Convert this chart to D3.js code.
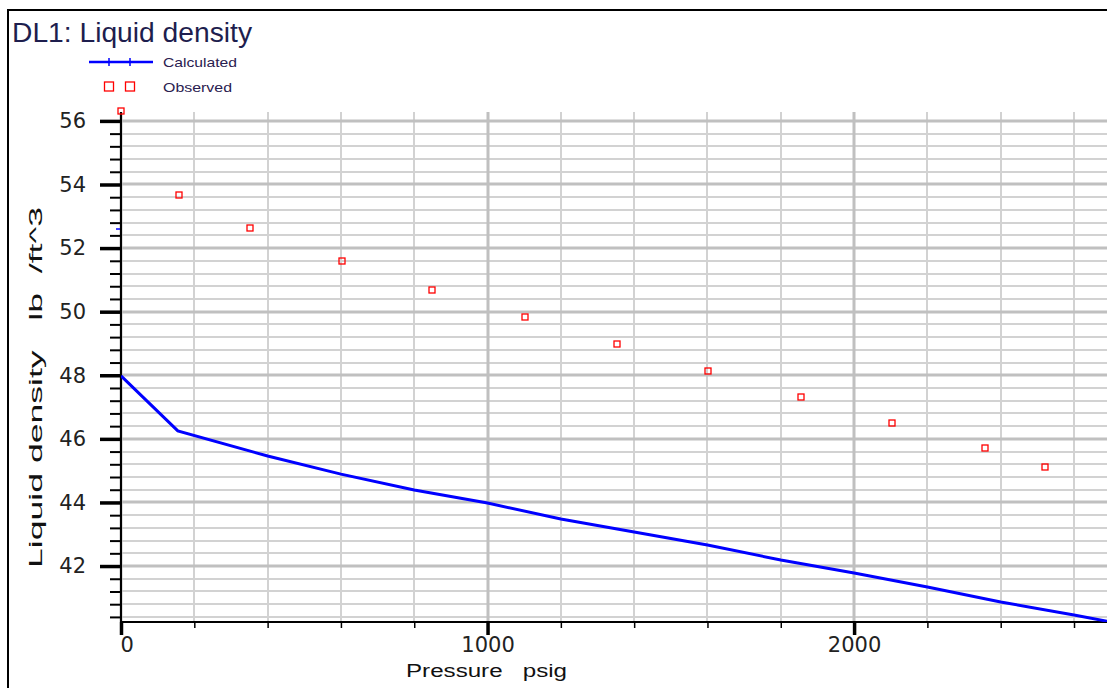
<!DOCTYPE html>
<html>
<head>
<meta charset="utf-8">
<script src="https://cdn.jsdelivr.net/npm/d3@7"></script>
<style>
  body { margin: 0; background: #fff; }
  svg { display: block; }
</style>
</head>
<body>
<svg width="1107" height="688"></svg>
<script>
// data
var obsPressure = [0, 158, 352, 603, 849, 1102, 1353, 1602, 1855, 2104, 2357, 2521];
var obsDensity  = [56.3, 53.67, 52.64, 51.6, 50.69, 49.84, 48.99, 48.14, 47.32, 46.5, 45.72, 45.12];
var calcPressure = [0, 155, 400, 600, 800, 1000, 1200, 1400, 1600, 1800, 2000, 2200, 2400, 2600, 2720];
var calcDensity  = [47.98, 46.25, 45.46, 44.89, 44.39, 43.98, 43.48, 43.07, 42.66, 42.19, 41.78, 41.34, 40.87, 40.46, 40.2];
var yMajor = [42, 44, 46, 48, 50, 52, 54, 56];
var xMajor = [0, 1000, 2000];

(function () {
var svg = d3.select('svg');
var pl = 121, pr = 1107, pt = 112, pb = 622;

var x = d3.scaleLinear().domain([0, 2690]).range([pl, pr]);
var y = d3.scaleLinear().domain([40.24, 56.28]).range([pb, pt]);

// outer frame
svg.append('path').attr('d', 'M8,688 V10 H1107').attr('fill', 'none').attr('stroke', '#000').attr('stroke-width', 2);

// title
svg.append('text').attr('x', 12).attr('y', 42).text('DL1: Liquid density')
  .attr('font-family', 'Liberation Sans, Arial, sans-serif').attr('font-size', 27).attr('fill', '#1e1e4e')
  .attr('textLength', 240).attr('lengthAdjust', 'spacingAndGlyphs');

// legend
svg.append('line').attr('x1', 89).attr('x2', 153).attr('y1', 62).attr('y2', 62).attr('stroke', '#0000ff').attr('stroke-width', 2.5);
[109, 130].forEach(function (cx) {
  svg.append('line').attr('x1', cx).attr('x2', cx).attr('y1', 58).attr('y2', 66).attr('stroke', '#0000ff').attr('stroke-width', 1.5);
});
svg.append('text').attr('x', 163).attr('y', 67).text('Calculated')
  .attr('font-family', 'Liberation Sans, Arial, sans-serif').attr('font-size', 13).attr('fill', '#2a2050')
  .attr('textLength', 74).attr('lengthAdjust', 'spacingAndGlyphs');
[109, 130].forEach(function (cx) {
  svg.append('rect').attr('x', cx - 4.5).attr('y', 82).attr('width', 9).attr('height', 9)
    .attr('fill', 'none').attr('stroke', '#ff0000').attr('stroke-width', 1.3);
});
svg.append('text').attr('x', 163).attr('y', 92).text('Observed')
  .attr('font-family', 'Liberation Sans, Arial, sans-serif').attr('font-size', 13).attr('fill', '#2a2050')
  .attr('textLength', 69).attr('lengthAdjust', 'spacingAndGlyphs');

// grid
var yMinor = d3.range(0, 41).map(function (i) { return 40.4 + i * 0.4; }).filter(function (v) { return v <= 56.01; });
var xMinor = d3.range(0, 14).map(function (i) { return i * 200; }).filter(function (v) { return v <= 2690; });
var grid = svg.append('g');
grid.selectAll('.hmin').data(yMinor).enter().append('line')
  .attr('x1', pl).attr('x2', pr).attr('y1', function (d) { return Math.round(y(d)); }).attr('y2', function (d) { return Math.round(y(d)); })
  .attr('stroke', '#d2d2d2').attr('stroke-width', 2);
grid.selectAll('.vmin').data(xMinor).enter().append('line')
  .attr('y1', pt).attr('y2', pb).attr('x1', function (d) { return Math.round(x(d)); }).attr('x2', function (d) { return Math.round(x(d)); })
  .attr('stroke', '#d2d2d2').attr('stroke-width', 2);
grid.selectAll('.hmaj').data(yMajor).enter().append('line')
  .attr('x1', pl).attr('x2', pr).attr('y1', function (d) { return Math.round(y(d)); }).attr('y2', function (d) { return Math.round(y(d)); })
  .attr('stroke', '#c0c0c0').attr('stroke-width', 3);
grid.selectAll('.vmaj').data(xMajor).enter().append('line')
  .attr('y1', pt).attr('y2', pb).attr('x1', function (d) { return Math.round(x(d)); }).attr('x2', function (d) { return Math.round(x(d)); })
  .attr('stroke', '#c0c0c0').attr('stroke-width', 3);

// axes
var yAxisMinor = d3.axisLeft(y).tickValues(yMinor).tickSize(11).tickFormat('');
var yAxisMajor = d3.axisLeft(y).tickValues(yMajor).tickSize(21).tickPadding(14).tickFormat(d3.format('d'));
var gy1 = svg.append('g').attr('transform', 'translate(' + pl + ',0)').call(yAxisMinor);
var gy2 = svg.append('g').attr('transform', 'translate(' + pl + ',0)').call(yAxisMajor);
gy1.selectAll('.tick line').attr('stroke', '#000').attr('stroke-width', 2);
gy2.selectAll('.tick line').attr('stroke', '#000').attr('stroke-width', 3.5);
gy1.select('.domain').remove();
gy2.select('.domain').remove();
gy2.selectAll('.tick text').attr('font-family', 'DejaVu Sans, sans-serif').attr('font-size', 21).attr('fill', '#222');

var xAxisMinor = d3.axisBottom(x).tickValues(xMinor).tickSize(6).tickFormat('');
var xAxisMajor = d3.axisBottom(x).tickValues(xMajor).tickSize(13).tickPadding(2).tickFormat(d3.format('d'));
var gx1 = svg.append('g').attr('transform', 'translate(0,' + pb + ')').call(xAxisMinor);
var gx2 = svg.append('g').attr('transform', 'translate(0,' + pb + ')').call(xAxisMajor);
gx1.selectAll('.tick line').attr('stroke', '#000').attr('stroke-width', 1.5);
gx2.selectAll('.tick line').attr('stroke', '#000').attr('stroke-width', 3.5);
gx1.select('.domain').remove();
gx2.select('.domain').remove();
gx2.selectAll('.tick text').attr('font-family', 'DejaVu Sans, sans-serif').attr('font-size', 21).attr('fill', '#222')
  .attr('text-anchor', function (d) { return d === 0 ? 'start' : 'middle'; })
  .attr('dx', function (d) { return d === 0 ? -1 : 0; });

svg.append('line').attr('x1', pl).attr('x2', pl).attr('y1', pt).attr('y2', pb + 1).attr('stroke', '#000').attr('stroke-width', 2);
svg.append('line').attr('x1', pl).attr('x2', pr).attr('y1', pb).attr('y2', pb).attr('stroke', '#000').attr('stroke-width', 2);

// axis titles
svg.append('text').attr('x', 406).attr('y', 677).text('Pressure   psig')
  .attr('font-family', 'Liberation Sans, Arial, sans-serif').attr('font-size', 18).attr('fill', '#111')
  .attr('textLength', 161).attr('lengthAdjust', 'spacingAndGlyphs').style('white-space', 'pre');
svg.append('text').attr('transform', 'translate(42,568) rotate(-90)').text('Liquid density   lb  /ft^3')
  .attr('font-family', 'Liberation Sans, Arial, sans-serif').attr('font-size', 19).attr('fill', '#111')
  .attr('textLength', 361).attr('lengthAdjust', 'spacingAndGlyphs').style('white-space', 'pre');

// clip region for data
svg.append('clipPath').attr('id', 'plotclip').append('rect')
  .attr('x', pl).attr('y', pt - 12).attr('width', pr - pl).attr('height', pb - pt + 12);

// calculated line
var calc = calcPressure.map(function (p, i) { return [p, calcDensity[i]]; });
svg.append('path').datum(calc).attr('clip-path', 'url(#plotclip)')
  .attr('d', d3.line().x(function (d) { return x(d[0]); }).y(function (d) { return y(d[1]); }))
  .attr('fill', 'none').attr('stroke', '#0000ff').attr('stroke-width', 3);
// stray calc marker near the axis
svg.append('line').attr('x1', x(0) - 5).attr('x2', x(0) - 1).attr('y1', y(52.6)).attr('y2', y(52.6))
  .attr('stroke', '#0000ff').attr('stroke-width', 1.5);

// observed points
var obs = obsPressure.map(function (p, i) { return [p, obsDensity[i]]; });
svg.selectAll('.obs').data(obs).enter().append('rect')
  .attr('x', function (d) { return Math.round(x(d[0])) - 3; })
  .attr('y', function (d) { return Math.round(y(d[1])) - 3; })
  .attr('width', 6).attr('height', 6)
  .attr('fill', 'none').attr('stroke', '#ff0000').attr('stroke-width', 1.3);
})();
</script>
</body>
</html>
